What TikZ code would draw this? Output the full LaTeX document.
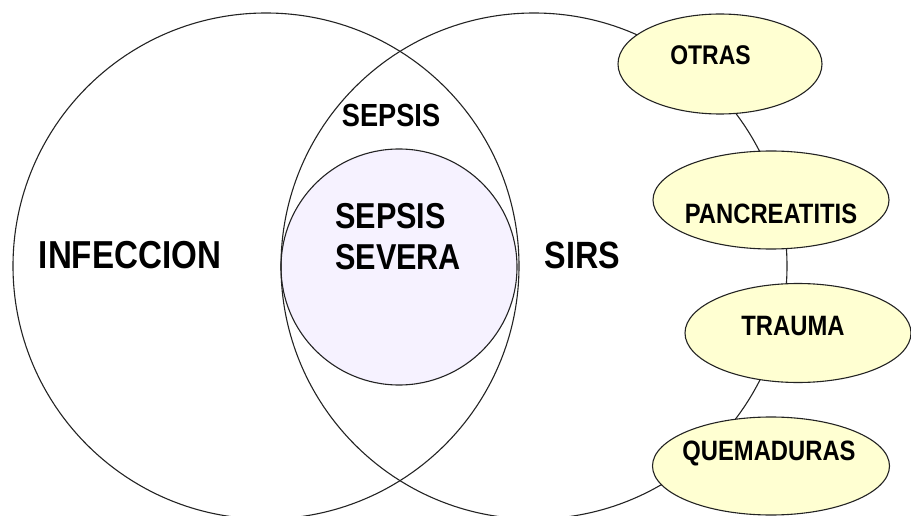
\documentclass[tikz,border=0pt]{standalone}
\usepackage{fontspec}
\setmainfont{Liberation Sans}
\newfontfamily\lab[FakeStretch=0.85]{Liberation Sans}
\usetikzlibrary{shapes.geometric}
\definecolor{ellfill}{RGB}{255,255,210}
\definecolor{sevfill}{RGB}{246,242,255}
\definecolor{edge}{RGB}{35,35,35}
\begin{document}
\begin{tikzpicture}[x=1pt,y=-1pt,
  ring/.style={circle, draw=edge, line width=1.1pt, inner sep=0pt},
  cause/.style={ellipse, draw=edge, line width=1.1pt, fill=ellfill, inner sep=0pt},
  lbl/.style={text=black, inner sep=0pt},
]
\clip (0,0) rectangle (911,516);
% Venn circles
\node[ring, fill=sevfill, minimum size=236pt] (severa) at (399,267) {};
\node[ring, minimum size=506pt] (infeccion) at (266,266) {};
\node[ring, minimum size=506pt] (sirs) at (534,266) {};
% causes
\node[cause, minimum width=204pt, minimum height=100pt] (otras) at (720,64) {};
\node[cause, minimum width=236pt, minimum height=98pt] (pancreatitis) at (771,200) {};
\node[cause, minimum width=226pt, minimum height=99pt] (trauma) at (798,333) {};
\node[cause, minimum width=237pt, minimum height=98pt] (quemaduras) at (771,466) {};
% labels
\node[lbl, anchor=base, font=\lab\bfseries\fontsize{39}{44}\selectfont] (tinf) at (130,268) {INFECCION};
\node[lbl, anchor=base, font=\lab\bfseries\fontsize{38}{44}\selectfont] (tsirs) at (582.5,268) {SIRS};
\node[lbl, anchor=base, font=\lab\bfseries\fontsize{32}{38}\selectfont] (tsepsis) at (391,127) {SEPSIS};
\node[lbl, anchor=north west, align=left, font=\lab\bfseries\fontsize{36}{41}\selectfont] (tsevera) at (335,203) {SEPSIS\\SEVERA};
\node[lbl, anchor=base, font=\lab\bfseries\fontsize{27}{32}\selectfont] (totras) at (710.5,65) {OTRAS};
\node[lbl, anchor=base, font=\lab\bfseries\fontsize{28}{32}\selectfont] (tpanc) at (771,223) {PANCREATITIS};
\node[lbl, anchor=base, font=\lab\bfseries\fontsize{28}{32}\selectfont] (ttrauma) at (793,335) {TRAUMA};
\node[lbl, anchor=base, font=\lab\bfseries\fontsize{28}{32}\selectfont] (tquem) at (769,460) {QUEMADURAS};
\end{tikzpicture}
\end{document}
